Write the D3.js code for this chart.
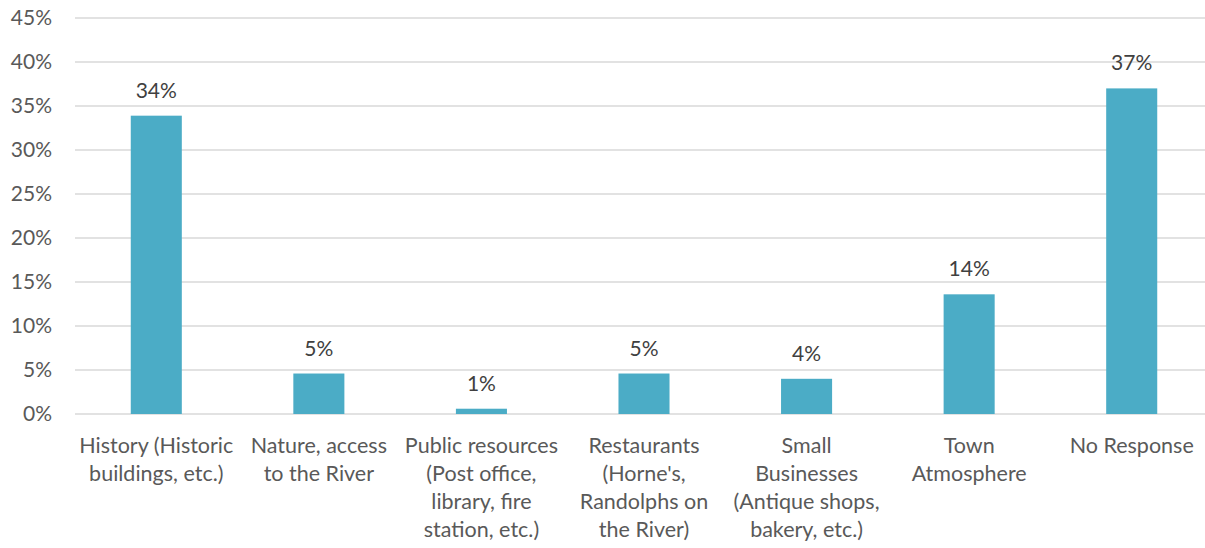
<!DOCTYPE html>
<html>
<head>
<meta charset="utf-8">
<script src="https://cdn.jsdelivr.net/npm/d3@7"></script>
<style>
  html, body { margin: 0; padding: 0; background: #fff; }
  svg { display: block; }
</style>
</head>
<body>
<svg id="chart" width="1205" height="548"></svg>
<script>
// Survey answers: what people value most about the town
const categories = [
  ["History (Historic", "buildings, etc.)"],
  ["Nature, access", "to the River"],
  ["Public resources", "(Post office,", "library, fire", "station, etc.)"],
  ["Restaurants", "(Horne's,", "Randolphs on", "the River)"],
  ["Small", "Businesses", "(Antique shops,", "bakery, etc.)"],
  ["Town", "Atmosphere"],
  ["No Response"]
];
const shares = [0.339, 0.046, 0.006, 0.046, 0.04, 0.136, 0.37];
const yTicks = [0, 0.05, 0.10, 0.15, 0.20, 0.25, 0.30, 0.35, 0.40, 0.45];

const svg = d3.select("#chart");
const margin = { left: 75, right: -8, top: 18, bottom: 134 };
const W = 1205, H = 548;
const font = "Lato, 'Open Sans', sans-serif";

const x = d3.scaleBand()
  .domain(d3.range(categories.length))
  .range([margin.left, W - margin.right])
  .paddingInner(0.686)
  .paddingOuter(0.343);

const y = d3.scaleLinear()
  .domain([0, 0.45])
  .range([H - margin.bottom, margin.top]);

// horizontal gridlines
svg.append("g")
  .selectAll("line")
  .data(yTicks)
  .join("line")
  .attr("x1", margin.left)
  .attr("x2", W)
  .attr("y1", d => y(d))
  .attr("y2", d => y(d))
  .attr("stroke", "#d9d9d9")
  .attr("stroke-width", 1.5);

// y axis labels
const yAxis = d3.axisLeft(y)
  .tickValues(yTicks)
  .tickFormat(d3.format(".0%"))
  .tickSize(0)
  .tickPadding(0);
svg.append("g")
  .attr("transform", `translate(${52},0)`)
  .call(yAxis)
  .call(g => g.select(".domain").remove())
  .call(g => g.selectAll("text")
    .attr("fill", "#595959")
    .style("font-family", font)
    .style("font-size", "21px"));

// bars
svg.append("g")
  .selectAll("rect")
  .data(shares)
  .join("rect")
  .attr("x", (d, i) => x(i))
  .attr("width", x.bandwidth())
  .attr("y", d => y(d))
  .attr("height", d => y(0) - y(d))
  .attr("fill", "#4bacc6");

// value labels
svg.append("g")
  .selectAll("text")
  .data(shares)
  .join("text")
  .attr("x", (d, i) => x(i) + x.bandwidth() / 2)
  .attr("y", d => y(d) - 18)
  .attr("text-anchor", "middle")
  .attr("fill", "#404040")
  .style("font-family", font)
  .style("font-size", "21px")
  .text(d => d3.format(".0%")(d));

// category labels, wrapped over several lines
const cat = svg.append("g")
  .selectAll("text")
  .data(categories)
  .join("text")
  .attr("text-anchor", "middle")
  .attr("fill", "#595959")
  .style("font-family", font)
  .style("font-size", "21.5px")
  .attr("transform", (d, i) => `translate(${x(i) + x.bandwidth() / 2},${y(0) + 39})`);
cat.selectAll("tspan")
  .data(d => d)
  .join("tspan")
  .attr("x", 0)
  .attr("y", (d, i) => i * 28)
  .text(d => d);
</script>
</body>
</html>
